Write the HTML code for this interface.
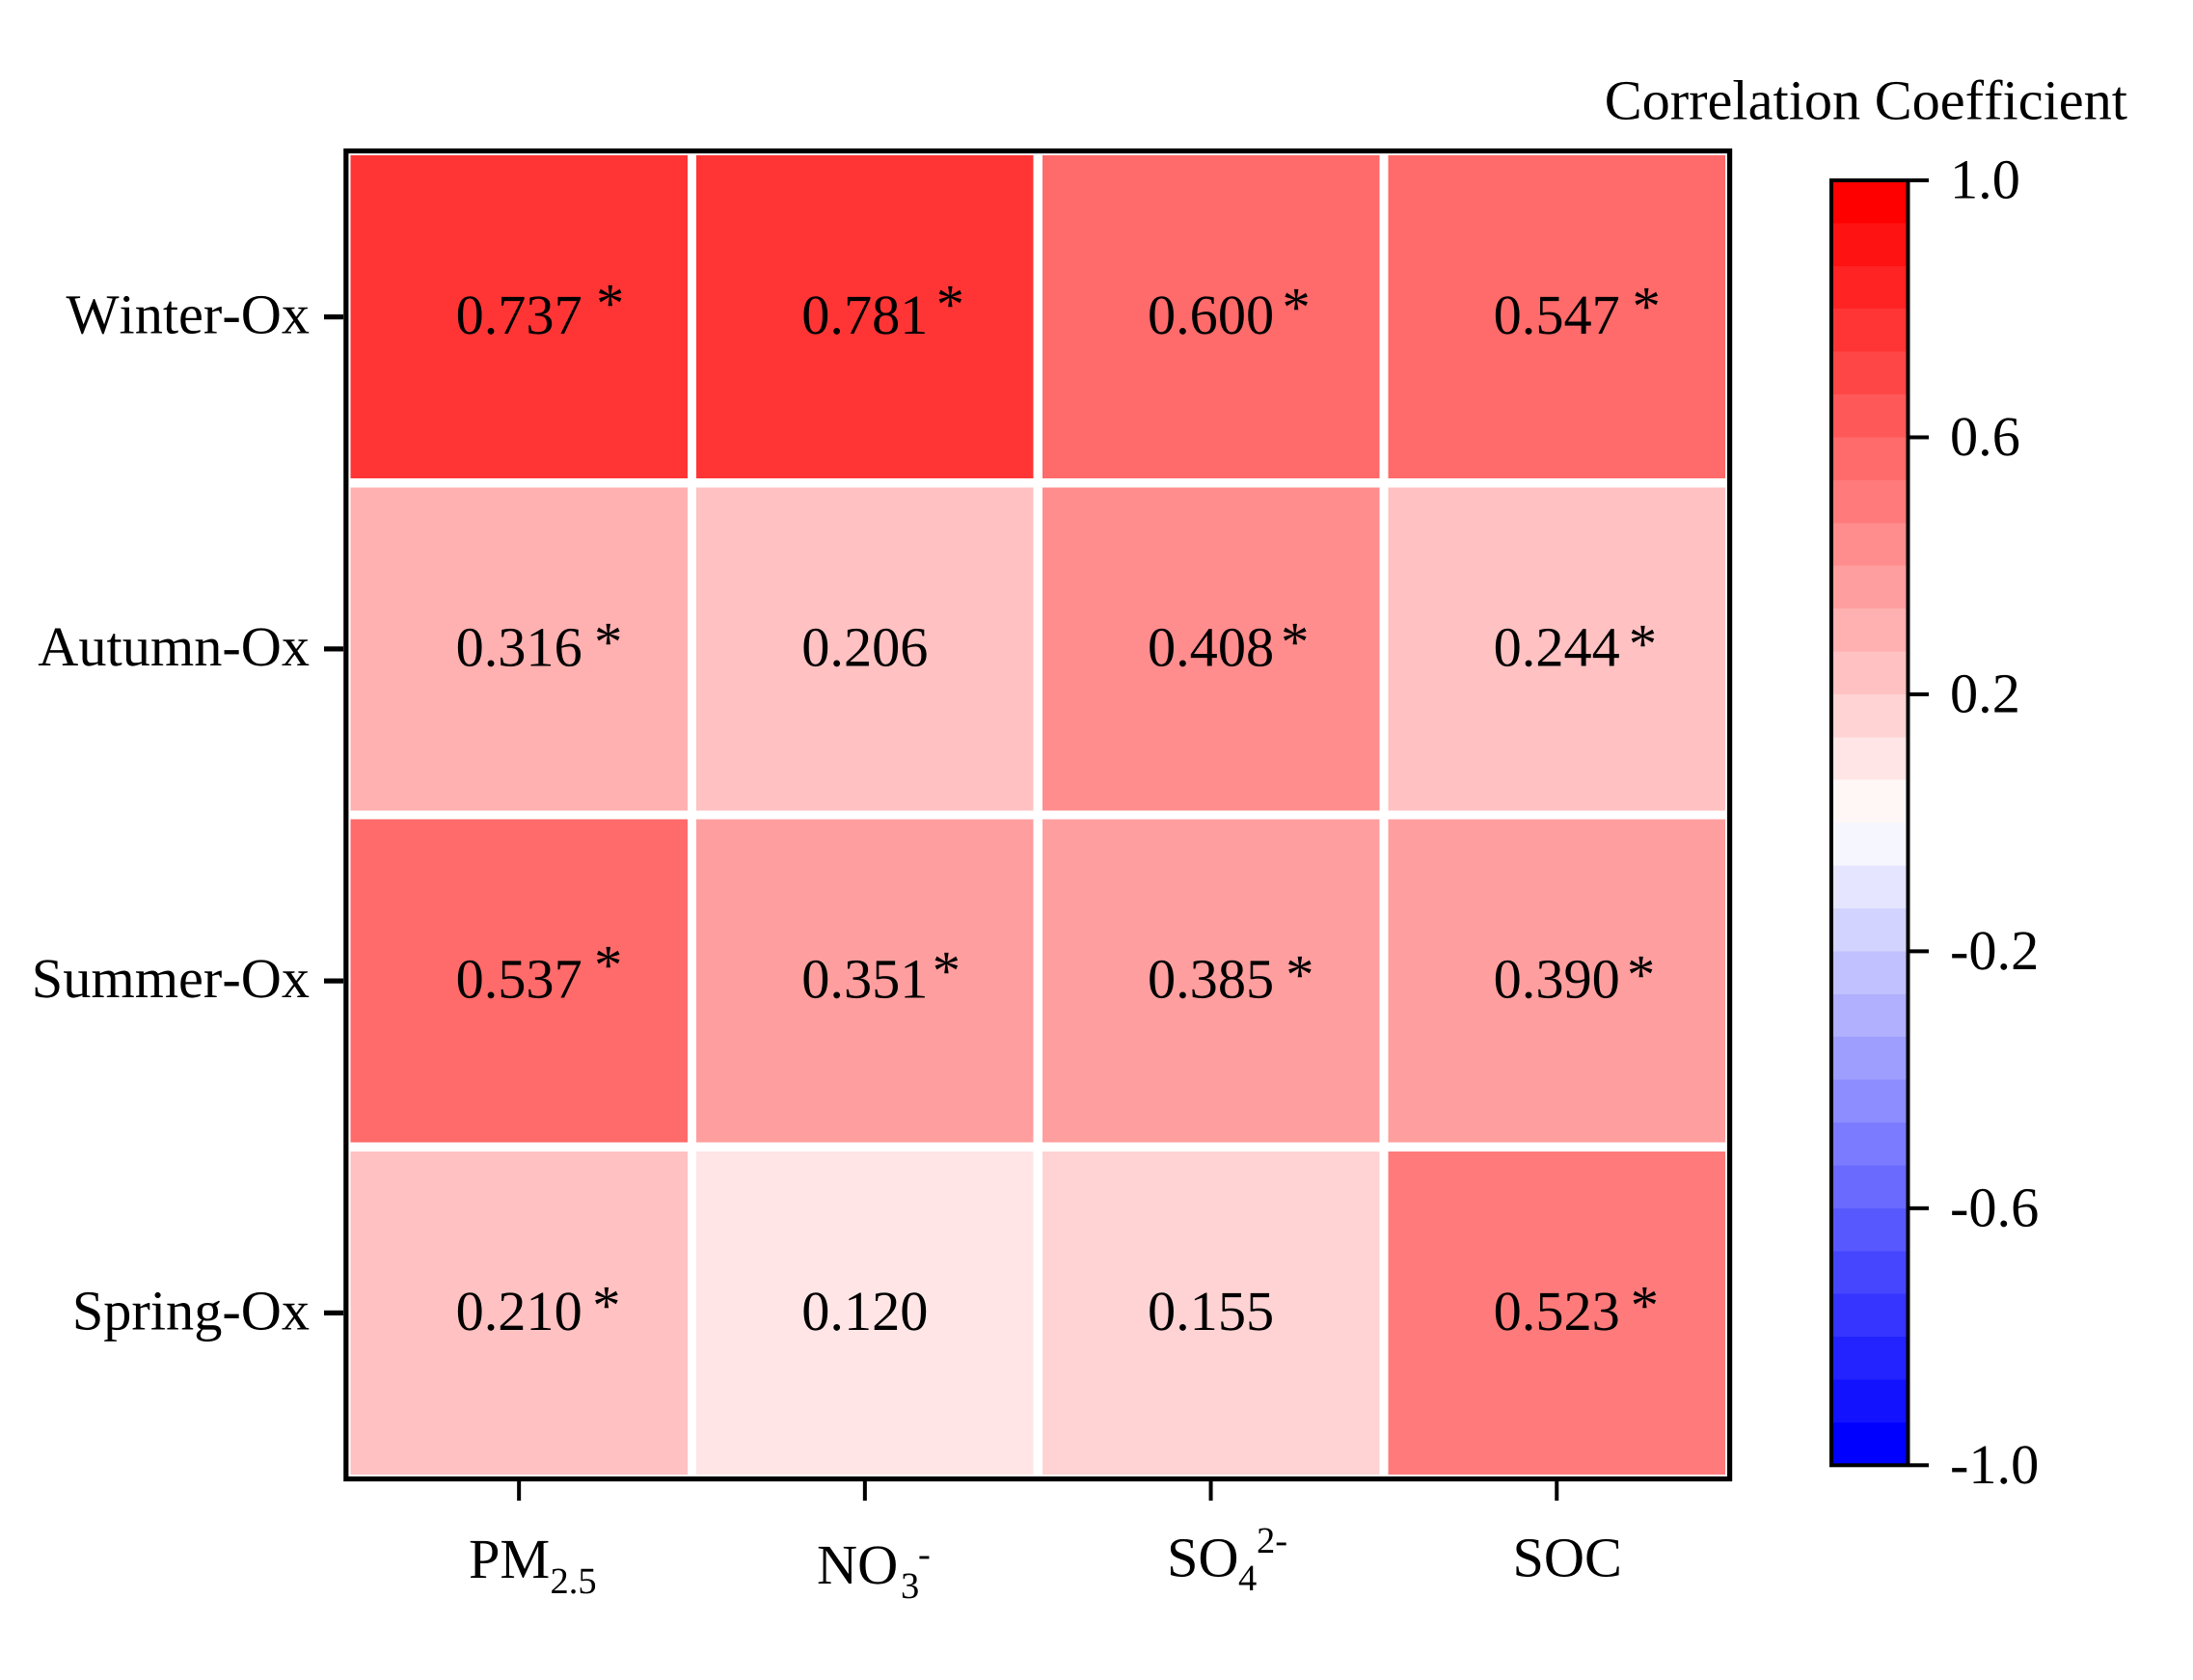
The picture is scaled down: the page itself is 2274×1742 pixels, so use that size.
<!DOCTYPE html>
<html lang="en">
<head>
<meta charset="utf-8">
<title>Correlation Coefficient Heatmap</title>
<style>
html,body{margin:0;padding:0;background:#fff;}
svg{display:block;}
text{font-family:"Liberation Serif","Times New Roman",serif;fill:#000;text-rendering:geometricPrecision;font-kerning:none;}
</style>
</head>
<body>
<svg id="chart" xmlns="http://www.w3.org/2000/svg" width="2274" height="1742" viewBox="0 0 2274 1742">
  <rect x="0" y="0" width="2274" height="1742" fill="#ffffff"/>
  <g id="cells"></g>
  <rect x="358.8" y="156.5" width="1434.8" height="1377" fill="none" stroke="#000" stroke-width="5.2"/>
  <g id="axis-ticks"></g>
  <g id="y-labels"></g>
  <g>
    <g>
      <text x="486" y="1636" font-size="58.3">PM</text>
      <text x="570.5" y="1652" font-size="38.5">2.5</text>
    </g>
    <g>
      <text x="847" y="1642" font-size="58.3">NO</text>
      <text x="934" y="1657" font-size="38.5">3</text>
      <text x="952" y="1624" font-size="38.5">-</text>
    </g>
    <g>
      <text x="1210" y="1634.5" font-size="58.3">SO</text>
      <text x="1284" y="1649" font-size="38.5">4</text>
      <text x="1303" y="1610" font-size="38.5">2-</text>
    </g>
    <g>
      <text x="1568.5" y="1634.5" font-size="58.3">SOC</text>
    </g>
  </g>
  <text x="2206" y="123.5" font-size="58.3" text-anchor="end">Correlation Coefficient</text>
  <g id="colorbar"></g>
</svg>
<script>
// ---- chart data ----
const rowLabels = ['Winter-Ox', 'Autumn-Ox', 'Summer-Ox', 'Spring-Ox'];
const colLabels = ['PM2.5', 'NO3-', 'SO42-', 'SOC'];
const winterValues = [0.737, 0.781, 0.600, 0.547];
const autumnValues = [0.316, 0.206, 0.408, 0.244];
const summerValues = [0.537, 0.351, 0.385, 0.390];
const springValues = [0.210, 0.120, 0.155, 0.523];
const winterSig = [true, true, true, true];
const autumnSig = [true, false, true, true];
const summerSig = [true, true, true, true];
const springSig = [true, false, false, true];
const colorbarTicks = [1.0, 0.6, 0.2, -0.2, -0.6, -1.0];
const colorbarTickLabels = ['1.0', '0.6', '0.2', '-0.2', '-0.6', '-1.0'];

const seriesValues = [winterValues, autumnValues, summerValues, springValues];
const seriesSig = [winterSig, autumnSig, summerSig, springSig];

// ---- layout ----
const NS = 'http://www.w3.org/2000/svg';
const plot = {x0: 358.8, x1: 1793.6, y0: 156.5, y1: 1533.5, gap: 4.6};
const bar = {x0: 1899, x1: 1978.5, y0: 187, y1: 1519.3};
const BAND_COUNT = 30;
const FONT = 58.3;
// hand-placed asterisk nudges relative to the cell centre (layout only)
const starNudgeX = [[94.6, 88.5, 88.5, 93], [92.6, 0, 87.2, 89.2], [92.6, 84.5, 92.3, 87.3], [90.7, 0, 0, 91.1]];
const starNudgeY = [[5.5, 6.5, 9.5, 8.5], [12, 0, 12, 14], [3, 9, 13, 13], [11.5, 0, 0, 11.5]];

// ---- scales ----
function xScale(i) { return plot.x0 + (plot.x1 - plot.x0) * (i + 0.5) / colLabels.length; }
function yScale(i) { return plot.y0 + (plot.y1 - plot.y0) * (i + 0.5) / rowLabels.length; }
function barY(v) { return bar.y0 + (1 - v) / 2 * (bar.y1 - bar.y0); }
function colorOf(v) {
  let k = Math.floor((1 - v) / 2 * BAND_COUNT + 1e-9);
  k = Math.max(0, Math.min(BAND_COUNT - 1, k));
  const half = BAND_COUNT / 2;
  const step = 255 / (half - 0.5);
  if (k < half) {
    const c = Math.round(k * step);
    return 'rgb(255,' + c + ',' + c + ')';
  }
  const c = Math.round((BAND_COUNT - 1 - k) * step);
  return 'rgb(' + c + ',' + c + ',255)';
}
function make(tag, attrs, parent, txt) {
  const el = document.createElementNS(NS, tag);
  for (const key in attrs) { el.setAttribute(key, attrs[key]); }
  if (txt !== undefined) { el.textContent = txt; }
  parent.appendChild(el);
  return el;
}

const cellsG = document.getElementById('cells');
const ticksG = document.getElementById('axis-ticks');
const yLabelsG = document.getElementById('y-labels');
const barG = document.getElementById('colorbar');
const cellW = (plot.x1 - plot.x0) / colLabels.length;
const cellH = (plot.y1 - plot.y0) / rowLabels.length;

// ---- heatmap cells ----
seriesValues.forEach(function (row, r) {
  row.forEach(function (value, c) {
    const cx = xScale(c);
    const cy = yScale(r);
    const rect = make('rect', {
      x: cx - cellW / 2 + plot.gap,
      y: cy - cellH / 2 + plot.gap,
      width: cellW - 2 * plot.gap,
      height: cellH - 2 * plot.gap,
      fill: colorOf(value),
      'shape-rendering': 'crispEdges'
    }, cellsG);
    
    
    const label = make('text', {x: cx, y: cy + 17.5, 'font-size': FONT, 'text-anchor': 'middle'}, cellsG, value.toFixed(3));
    
    
    if (seriesSig[r][c]) {
      const star = make('text', {x: cx + starNudgeX[r][c], y: cy + starNudgeY[r][c], 'font-size': FONT, 'text-anchor': 'middle'}, cellsG, '*');
      
      
    }
  });
});

// ---- y axis ----
rowLabels.forEach(function (name, r) {
  const cy = yScale(r);
  const tick = make('rect', {x: 336, y: cy - 2.6, width: 20, height: 5.2, fill: '#000'}, ticksG);
  
  
  const label = make('text', {x: 321, y: cy + 17, 'font-size': FONT, 'text-anchor': 'end'}, yLabelsG, name);
  
  
});

// ---- x axis ticks ----
colLabels.forEach(function (name, c) {
  const tick = make('rect', {x: xScale(c) - 2, y: 1536, width: 4, height: 20, fill: '#000'}, ticksG);
  
  
});

// ---- colorbar ----
for (let k = 0; k < BAND_COUNT; k++) {
  const vTop = 1 - 2 * k / BAND_COUNT;
  const vBot = 1 - 2 * (k + 1) / BAND_COUNT;
  const band = make('rect', {
    x: bar.x0,
    y: barY(vTop),
    width: bar.x1 - bar.x0,
    height: barY(vBot) - barY(vTop) + 0.5,
    fill: colorOf((vTop + vBot) / 2),
    'shape-rendering': 'crispEdges'
  }, barG);
  
  
}
const barFrame = make('rect', {x: bar.x0, y: bar.y0, width: bar.x1 - bar.x0, height: bar.y1 - bar.y0, fill: 'none', stroke: '#000', 'stroke-width': 4}, barG);


colorbarTicks.forEach(function (v, i) {
  const y = barY(v);
  const tick = make('rect', {x: 1980, y: y - 2, width: 20, height: 4, fill: '#000'}, barG);
  
  
  const label = make('text', {x: 2022, y: y + 18.5, 'font-size': FONT}, barG, colorbarTickLabels[i]);
  
  
});
</script>
</body>
</html>
